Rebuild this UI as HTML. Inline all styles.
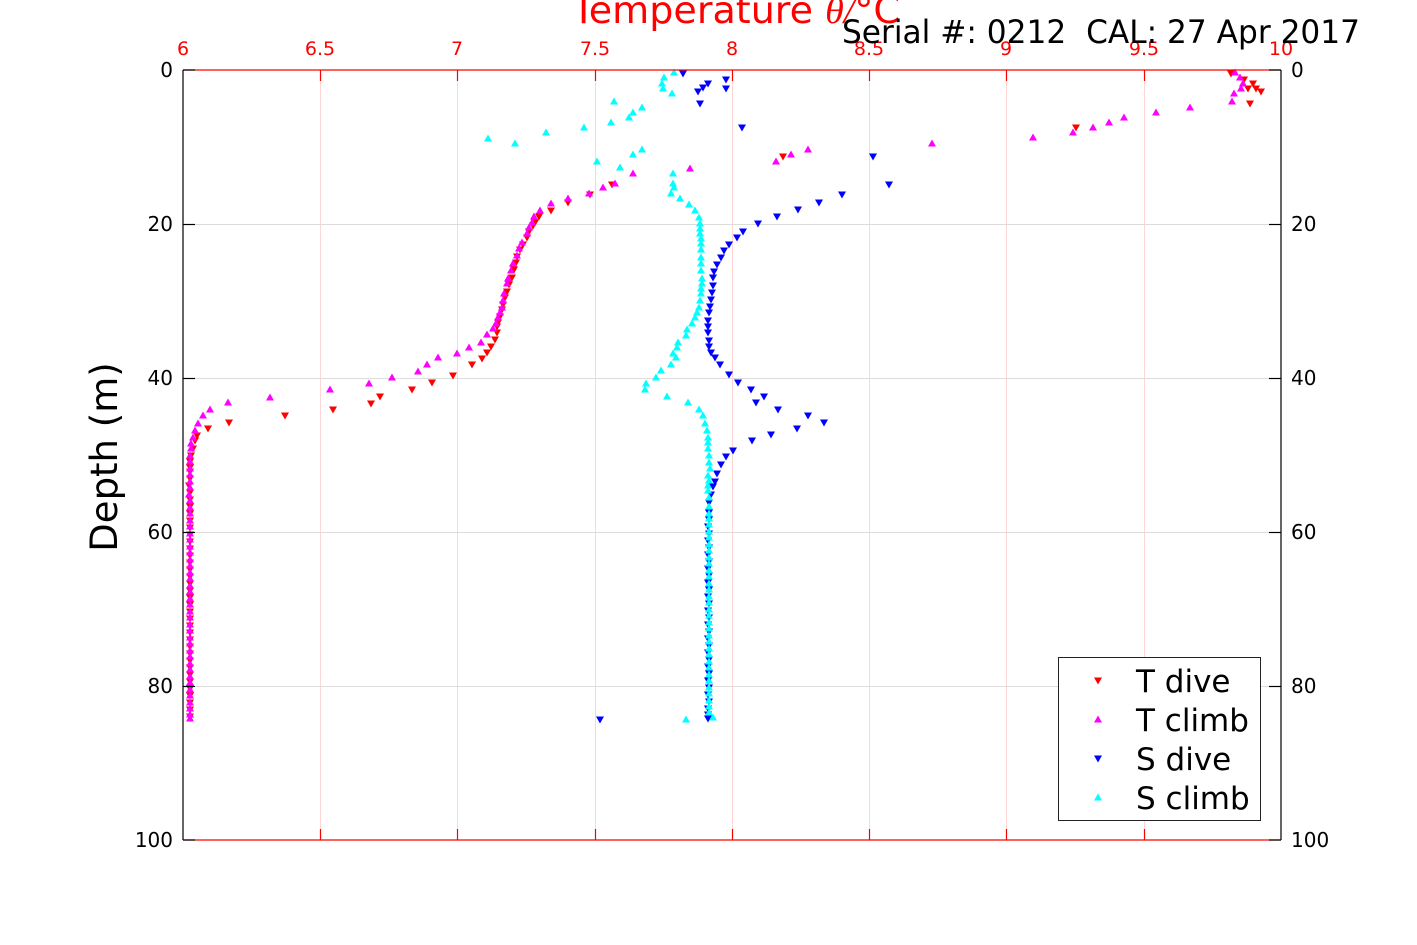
<!DOCTYPE html>
<html><head><meta charset="utf-8"><style>
html,body{margin:0;padding:0;background:#fff;}
svg{display:block;font-family:"DejaVu Sans","Liberation Sans",sans-serif;}
</style></head><body>
<svg width="1417" height="945" viewBox="0 0 1417 945" xmlns="http://www.w3.org/2000/svg">
<rect width="1417" height="945" fill="#fff"/>
<!-- grid -->
<g stroke="#ffd6d6" stroke-width="1">
<line x1="320.5" y1="70" x2="320.5" y2="840"/><line x1="457.5" y1="70" x2="457.5" y2="840"/><line x1="595.5" y1="70" x2="595.5" y2="840"/><line x1="732.5" y1="70" x2="732.5" y2="840"/><line x1="869.5" y1="70" x2="869.5" y2="840"/><line x1="1006.5" y1="70" x2="1006.5" y2="840"/><line x1="1144.5" y1="70" x2="1144.5" y2="840"/>
</g>
<g stroke="#dcdcdc" stroke-width="1">
<line x1="183" y1="224.5" x2="1281" y2="224.5"/><line x1="183" y1="378.5" x2="1281" y2="378.5"/><line x1="183" y1="532.5" x2="1281" y2="532.5"/><line x1="183" y1="686.5" x2="1281" y2="686.5"/>
</g>
<!-- T dive -->
<path fill="#ff0000" d="M1231 74m-4-3.5h8l-4 7zM1244 80m-4-3.5h8l-4 7zM1253 84m-4-3.5h8l-4 7zM1248 89m-4-3.5h8l-4 7zM1256 89m-4-3.5h8l-4 7zM1261 92m-4-3.5h8l-4 7zM1250 104m-4-3.5h8l-4 7zM1076 128m-4-3.5h8l-4 7zM783 157m-4-3.5h8l-4 7zM612 185m-4-3.5h8l-4 7zM590 195m-4-3.5h8l-4 7zM568 203m-4-3.5h8l-4 7zM551 211m-4-3.5h8l-4 7zM539 217m-4-3.5h8l-4 7zM535 223m-4-3.5h8l-4 7zM533 226m-4-3.5h8l-4 7zM529 232m-4-3.5h8l-4 7zM527 238m-4-3.5h8l-4 7zM523 245m-4-3.5h8l-4 7zM520 250m-4-3.5h8l-4 7zM517 257m-4-3.5h8l-4 7zM516 263m-4-3.5h8l-4 7zM514 270m-4-3.5h8l-4 7zM512 278m-4-3.5h8l-4 7zM509 285m-4-3.5h8l-4 7zM507 292m-4-3.5h8l-4 7zM505 298m-4-3.5h8l-4 7zM503 305m-4-3.5h8l-4 7zM502 310m-4-3.5h8l-4 7zM500 317m-4-3.5h8l-4 7zM498 323m-4-3.5h8l-4 7zM497 327m-4-3.5h8l-4 7zM497 333m-4-3.5h8l-4 7zM495 340m-4-3.5h8l-4 7zM491 347m-4-3.5h8l-4 7zM487 353m-4-3.5h8l-4 7zM482 359m-4-3.5h8l-4 7zM472 365m-4-3.5h8l-4 7zM453 376m-4-3.5h8l-4 7zM432 383m-4-3.5h8l-4 7zM412 390m-4-3.5h8l-4 7zM380 397m-4-3.5h8l-4 7zM371 404m-4-3.5h8l-4 7zM333 410m-4-3.5h8l-4 7zM285 416m-4-3.5h8l-4 7zM229 423m-4-3.5h8l-4 7zM208 429m-4-3.5h8l-4 7zM197 436m-4-3.5h8l-4 7zM195 441m-4-3.5h8l-4 7zM193 449m-4-3.5h8l-4 7zM191 456m-4-3.5h8l-4 7zM190 462m-4-3.5h8l-4 7zM190 468m-4-3.5h8l-4 7zM190 472m-4-3.5h8l-4 7zM190 479m-4-3.5h8l-4 7zM189 486m-4-3.5h8l-4 7zM190 493m-4-3.5h8l-4 7zM190 500m-4-3.5h8l-4 7zM190 507m-4-3.5h8l-4 7zM190 514m-4-3.5h8l-4 7zM190 521m-4-3.5h8l-4 7zM190 528m-4-3.5h8l-4 7zM190 535m-4-3.5h8l-4 7zM190 542m-4-3.5h8l-4 7zM190 549m-4-3.5h8l-4 7zM190 556m-4-3.5h8l-4 7zM190 563m-4-3.5h8l-4 7zM190 570m-4-3.5h8l-4 7zM190 577m-4-3.5h8l-4 7zM190 584m-4-3.5h8l-4 7zM190 591m-4-3.5h8l-4 7zM190 598m-4-3.5h8l-4 7zM190 605m-4-3.5h8l-4 7zM190 612m-4-3.5h8l-4 7zM190 619m-4-3.5h8l-4 7zM190 626m-4-3.5h8l-4 7zM190 633m-4-3.5h8l-4 7zM190 640m-4-3.5h8l-4 7zM190 647m-4-3.5h8l-4 7zM190 654m-4-3.5h8l-4 7zM190 661m-4-3.5h8l-4 7zM190 668m-4-3.5h8l-4 7zM190 675m-4-3.5h8l-4 7zM190 682m-4-3.5h8l-4 7zM190 689m-4-3.5h8l-4 7zM190 696m-4-3.5h8l-4 7zM190 703m-4-3.5h8l-4 7zM190 710m-4-3.5h8l-4 7zM190 717m-4-3.5h8l-4 7z"/>
<!-- T climb -->
<path fill="#ff00ff" d="M1235 72m-4 3.5h8l-4-7zM1240 77m-4 3.5h8l-4-7zM1243 83m-4 3.5h8l-4-7zM1241 88m-4 3.5h8l-4-7zM1234 93m-4 3.5h8l-4-7zM1232 101m-4 3.5h8l-4-7zM1190 107m-4 3.5h8l-4-7zM1156 112m-4 3.5h8l-4-7zM1124 117m-4 3.5h8l-4-7zM1109 122m-4 3.5h8l-4-7zM1093 127m-4 3.5h8l-4-7zM1073 132m-4 3.5h8l-4-7zM1033 137m-4 3.5h8l-4-7zM932 143m-4 3.5h8l-4-7zM808 149m-4 3.5h8l-4-7zM791 154m-4 3.5h8l-4-7zM776 161m-4 3.5h8l-4-7zM690 168m-4 3.5h8l-4-7zM633 173m-4 3.5h8l-4-7zM615 183m-4 3.5h8l-4-7zM603 187m-4 3.5h8l-4-7zM589 193m-4 3.5h8l-4-7zM568 198m-4 3.5h8l-4-7zM551 203m-4 3.5h8l-4-7zM540 210m-4 3.5h8l-4-7zM534 216m-4 3.5h8l-4-7zM532 222m-4 3.5h8l-4-7zM529 227m-4 3.5h8l-4-7zM527 233m-4 3.5h8l-4-7zM522 242m-4 3.5h8l-4-7zM519 248m-4 3.5h8l-4-7zM517 255m-4 3.5h8l-4-7zM513 263m-4 3.5h8l-4-7zM511 270m-4 3.5h8l-4-7zM508 278m-4 3.5h8l-4-7zM507 283m-4 3.5h8l-4-7zM504 293m-4 3.5h8l-4-7zM503 300m-4 3.5h8l-4-7zM502 307m-4 3.5h8l-4-7zM500 312m-4 3.5h8l-4-7zM498 317m-4 3.5h8l-4-7zM496 323m-4 3.5h8l-4-7zM493 328m-4 3.5h8l-4-7zM487 334m-4 3.5h8l-4-7zM481 342m-4 3.5h8l-4-7zM469 347m-4 3.5h8l-4-7zM457 353m-4 3.5h8l-4-7zM438 357m-4 3.5h8l-4-7zM427 364m-4 3.5h8l-4-7zM418 371m-4 3.5h8l-4-7zM392 377m-4 3.5h8l-4-7zM369 383m-4 3.5h8l-4-7zM330 389m-4 3.5h8l-4-7zM270 397m-4 3.5h8l-4-7zM228 402m-4 3.5h8l-4-7zM210 409m-4 3.5h8l-4-7zM203 415m-4 3.5h8l-4-7zM198 423m-4 3.5h8l-4-7zM195 430m-4 3.5h8l-4-7zM193 437m-4 3.5h8l-4-7zM191 443m-4 3.5h8l-4-7zM191 448m-4 3.5h8l-4-7zM190 455m-4 3.5h8l-4-7zM190 461m-4 3.5h8l-4-7zM190 468m-4 3.5h8l-4-7zM190 474m-4 3.5h8l-4-7zM190 481m-4 3.5h8l-4-7zM190 487m-4 3.5h8l-4-7zM189 494m-4 3.5h8l-4-7zM190 500m-4 3.5h8l-4-7zM190 507m-4 3.5h8l-4-7zM190 513m-4 3.5h8l-4-7zM190 520m-4 3.5h8l-4-7zM190 526m-4 3.5h8l-4-7zM190 533m-4 3.5h8l-4-7zM190 539m-4 3.5h8l-4-7zM190 546m-4 3.5h8l-4-7zM190 552m-4 3.5h8l-4-7zM190 559m-4 3.5h8l-4-7zM190 565m-4 3.5h8l-4-7zM190 572m-4 3.5h8l-4-7zM190 578m-4 3.5h8l-4-7zM190 585m-4 3.5h8l-4-7zM190 591m-4 3.5h8l-4-7zM190 598m-4 3.5h8l-4-7zM190 604m-4 3.5h8l-4-7zM190 611m-4 3.5h8l-4-7zM190 617m-4 3.5h8l-4-7zM190 624m-4 3.5h8l-4-7zM190 630m-4 3.5h8l-4-7zM190 637m-4 3.5h8l-4-7zM190 643m-4 3.5h8l-4-7zM190 650m-4 3.5h8l-4-7zM190 656m-4 3.5h8l-4-7zM190 663m-4 3.5h8l-4-7zM190 669m-4 3.5h8l-4-7zM190 676m-4 3.5h8l-4-7zM190 682m-4 3.5h8l-4-7zM190 689m-4 3.5h8l-4-7zM190 695m-4 3.5h8l-4-7zM190 702m-4 3.5h8l-4-7zM190 708m-4 3.5h8l-4-7zM190 714m-4 3.5h8l-4-7zM190 718m-4 3.5h8l-4-7z"/>
<!-- S dive -->
<path fill="#0000ff" d="M683 74m-4-3.5h8l-4 7zM726 80m-4-3.5h8l-4 7zM708 84m-4-3.5h8l-4 7zM703 88m-4-3.5h8l-4 7zM698 92m-4-3.5h8l-4 7zM726 89m-4-3.5h8l-4 7zM700 104m-4-3.5h8l-4 7zM742 128m-4-3.5h8l-4 7zM873 157m-4-3.5h8l-4 7zM889 185m-4-3.5h8l-4 7zM842 195m-4-3.5h8l-4 7zM819 203m-4-3.5h8l-4 7zM798 210m-4-3.5h8l-4 7zM777 217m-4-3.5h8l-4 7zM758 224m-4-3.5h8l-4 7zM743 232m-4-3.5h8l-4 7zM737 238m-4-3.5h8l-4 7zM729 245m-4-3.5h8l-4 7zM724 251m-4-3.5h8l-4 7zM721 258m-4-3.5h8l-4 7zM717 265m-4-3.5h8l-4 7zM714 272m-4-3.5h8l-4 7zM713 278m-4-3.5h8l-4 7zM713 286m-4-3.5h8l-4 7zM712 293m-4-3.5h8l-4 7zM711 300m-4-3.5h8l-4 7zM710 307m-4-3.5h8l-4 7zM709 313m-4-3.5h8l-4 7zM708 321m-4-3.5h8l-4 7zM708 327m-4-3.5h8l-4 7zM708 333m-4-3.5h8l-4 7zM709 341m-4-3.5h8l-4 7zM709 347m-4-3.5h8l-4 7zM711 353m-4-3.5h8l-4 7zM715 358m-4-3.5h8l-4 7zM720 365m-4-3.5h8l-4 7zM729 375m-4-3.5h8l-4 7zM738 383m-4-3.5h8l-4 7zM751 390m-4-3.5h8l-4 7zM764 397m-4-3.5h8l-4 7zM756 403m-4-3.5h8l-4 7zM778 410m-4-3.5h8l-4 7zM808 416m-4-3.5h8l-4 7zM824 423m-4-3.5h8l-4 7zM797 429m-4-3.5h8l-4 7zM771 435m-4-3.5h8l-4 7zM752 441m-4-3.5h8l-4 7zM733 451m-4-3.5h8l-4 7zM726 457m-4-3.5h8l-4 7zM721 465m-4-3.5h8l-4 7zM717 474m-4-3.5h8l-4 7zM715 482m-4-3.5h8l-4 7zM713 487m-4-3.5h8l-4 7zM711 495m-4-3.5h8l-4 7zM709 503m-4-3.5h8l-4 7zM709 513m-4-3.5h8l-4 7zM709 520m-4-3.5h8l-4 7zM708 527m-4-3.5h8l-4 7zM709 534m-4-3.5h8l-4 7zM708 541m-4-3.5h8l-4 7zM709 548m-4-3.5h8l-4 7zM708 555m-4-3.5h8l-4 7zM709 562m-4-3.5h8l-4 7zM708 569m-4-3.5h8l-4 7zM709 576m-4-3.5h8l-4 7zM708 583m-4-3.5h8l-4 7zM709 590m-4-3.5h8l-4 7zM708 597m-4-3.5h8l-4 7zM709 604m-4-3.5h8l-4 7zM708 611m-4-3.5h8l-4 7zM709 618m-4-3.5h8l-4 7zM708 625m-4-3.5h8l-4 7zM709 632m-4-3.5h8l-4 7zM708 639m-4-3.5h8l-4 7zM709 646m-4-3.5h8l-4 7zM708 653m-4-3.5h8l-4 7zM709 660m-4-3.5h8l-4 7zM708 667m-4-3.5h8l-4 7zM709 674m-4-3.5h8l-4 7zM708 681m-4-3.5h8l-4 7zM709 688m-4-3.5h8l-4 7zM708 695m-4-3.5h8l-4 7zM709 702m-4-3.5h8l-4 7zM708 709m-4-3.5h8l-4 7zM708 715m-4-3.5h8l-4 7zM708 719m-4-3.5h8l-4 7zM600 720m-4-3.5h8l-4 7z"/>
<!-- S climb -->
<path fill="#00ffff" d="M674 72m-4 3.5h8l-4-7zM664 77m-4 3.5h8l-4-7zM662 83m-4 3.5h8l-4-7zM663 88m-4 3.5h8l-4-7zM672 93m-4 3.5h8l-4-7zM614 101m-4 3.5h8l-4-7zM642 107m-4 3.5h8l-4-7zM633 112m-4 3.5h8l-4-7zM629 117m-4 3.5h8l-4-7zM611 122m-4 3.5h8l-4-7zM584 127m-4 3.5h8l-4-7zM546 132m-4 3.5h8l-4-7zM488 138m-4 3.5h8l-4-7zM515 143m-4 3.5h8l-4-7zM642 149m-4 3.5h8l-4-7zM633 154m-4 3.5h8l-4-7zM597 161m-4 3.5h8l-4-7zM620 167m-4 3.5h8l-4-7zM673 173m-4 3.5h8l-4-7zM673 183m-4 3.5h8l-4-7zM674 187m-4 3.5h8l-4-7zM671 193m-4 3.5h8l-4-7zM680 198m-4 3.5h8l-4-7zM689 204m-4 3.5h8l-4-7zM695 210m-4 3.5h8l-4-7zM699 217m-4 3.5h8l-4-7zM700 223m-4 3.5h8l-4-7zM700 228m-4 3.5h8l-4-7zM700 233m-4 3.5h8l-4-7zM701 238m-4 3.5h8l-4-7zM701 243m-4 3.5h8l-4-7zM701 249m-4 3.5h8l-4-7zM701 257m-4 3.5h8l-4-7zM701 263m-4 3.5h8l-4-7zM701 270m-4 3.5h8l-4-7zM702 278m-4 3.5h8l-4-7zM702 283m-4 3.5h8l-4-7zM701 288m-4 3.5h8l-4-7zM701 293m-4 3.5h8l-4-7zM700 300m-4 3.5h8l-4-7zM699 307m-4 3.5h8l-4-7zM697 312m-4 3.5h8l-4-7zM695 317m-4 3.5h8l-4-7zM692 323m-4 3.5h8l-4-7zM687 329m-4 3.5h8l-4-7zM686 335m-4 3.5h8l-4-7zM678 342m-4 3.5h8l-4-7zM677 347m-4 3.5h8l-4-7zM673 353m-4 3.5h8l-4-7zM676 357m-4 3.5h8l-4-7zM671 364m-4 3.5h8l-4-7zM661 370m-4 3.5h8l-4-7zM656 377m-4 3.5h8l-4-7zM646 383m-4 3.5h8l-4-7zM645 389m-4 3.5h8l-4-7zM667 396m-4 3.5h8l-4-7zM688 402m-4 3.5h8l-4-7zM699 409m-4 3.5h8l-4-7zM703 415m-4 3.5h8l-4-7zM705 423m-4 3.5h8l-4-7zM707 430m-4 3.5h8l-4-7zM708 437m-4 3.5h8l-4-7zM708 442m-4 3.5h8l-4-7zM708 448m-4 3.5h8l-4-7zM709 455m-4 3.5h8l-4-7zM709 462m-4 3.5h8l-4-7zM710 468m-4 3.5h8l-4-7zM708 475m-4 3.5h8l-4-7zM709 480m-4 3.5h8l-4-7zM708 485m-4 3.5h8l-4-7zM708 490m-4 3.5h8l-4-7zM709 497m-4 3.5h8l-4-7zM709 506m-4 3.5h8l-4-7zM709 513m-4 3.5h8l-4-7zM709 518m-4 3.5h8l-4-7zM709 524m-4 3.5h8l-4-7zM709 531m-4 3.5h8l-4-7zM709 537m-4 3.5h8l-4-7zM709 544m-4 3.5h8l-4-7zM709 550m-4 3.5h8l-4-7zM709 557m-4 3.5h8l-4-7zM709 563m-4 3.5h8l-4-7zM709 570m-4 3.5h8l-4-7zM709 576m-4 3.5h8l-4-7zM709 583m-4 3.5h8l-4-7zM709 589m-4 3.5h8l-4-7zM709 596m-4 3.5h8l-4-7zM709 602m-4 3.5h8l-4-7zM709 609m-4 3.5h8l-4-7zM709 615m-4 3.5h8l-4-7zM709 622m-4 3.5h8l-4-7zM709 628m-4 3.5h8l-4-7zM709 635m-4 3.5h8l-4-7zM709 641m-4 3.5h8l-4-7zM709 648m-4 3.5h8l-4-7zM709 654m-4 3.5h8l-4-7zM709 661m-4 3.5h8l-4-7zM709 667m-4 3.5h8l-4-7zM709 674m-4 3.5h8l-4-7zM709 680m-4 3.5h8l-4-7zM709 687m-4 3.5h8l-4-7zM709 693m-4 3.5h8l-4-7zM709 700m-4 3.5h8l-4-7zM709 706m-4 3.5h8l-4-7zM709 712m-4 3.5h8l-4-7zM713 717m-4 3.5h8l-4-7zM686 719m-4 3.5h8l-4-7z"/>
<!-- axes -->
<g stroke-width="1.2" fill="none">
<line x1="183" y1="70" x2="1281" y2="70" stroke="#ff0000"/>
<line x1="183" y1="840" x2="1281" y2="840" stroke="#ff0000"/>
<line x1="183" y1="70" x2="183" y2="840" stroke="#000"/>
<line x1="1281" y1="70" x2="1281" y2="840" stroke="#000"/>
</g>
<g stroke="#ff0000" stroke-width="1.2">
<line x1="320.5" y1="70" x2="320.5" y2="81"/><line x1="457.5" y1="70" x2="457.5" y2="81"/><line x1="595.5" y1="70" x2="595.5" y2="81"/><line x1="732.5" y1="70" x2="732.5" y2="81"/><line x1="869.5" y1="70" x2="869.5" y2="81"/><line x1="1006.5" y1="70" x2="1006.5" y2="81"/><line x1="1144.5" y1="70" x2="1144.5" y2="81"/>
<line x1="320.5" y1="840" x2="320.5" y2="829"/><line x1="457.5" y1="840" x2="457.5" y2="829"/><line x1="595.5" y1="840" x2="595.5" y2="829"/><line x1="732.5" y1="840" x2="732.5" y2="829"/><line x1="869.5" y1="840" x2="869.5" y2="829"/><line x1="1006.5" y1="840" x2="1006.5" y2="829"/><line x1="1144.5" y1="840" x2="1144.5" y2="829"/>
</g>
<g stroke="#000" stroke-width="1.2">
<line x1="183" y1="70" x2="195" y2="70"/><line x1="183" y1="224.5" x2="195" y2="224.5"/><line x1="183" y1="378.5" x2="195" y2="378.5"/><line x1="183" y1="532.5" x2="195" y2="532.5"/><line x1="183" y1="686.5" x2="195" y2="686.5"/><line x1="183" y1="840" x2="195" y2="840"/>
<line x1="1269" y1="70" x2="1281" y2="70"/><line x1="1269" y1="224.5" x2="1281" y2="224.5"/><line x1="1269" y1="378.5" x2="1281" y2="378.5"/><line x1="1269" y1="532.5" x2="1281" y2="532.5"/><line x1="1269" y1="686.5" x2="1281" y2="686.5"/><line x1="1269" y1="840" x2="1281" y2="840"/>
</g>
<!-- tick labels -->
<g fill="#ff0000" font-size="19" text-anchor="middle">
<text x="183" y="55">6</text><text x="320" y="55">6.5</text><text x="457" y="55">7</text><text x="595" y="55">7.5</text><text x="732" y="55">8</text><text x="869" y="55">8.5</text><text x="1006" y="55">9</text><text x="1144" y="55">9.5</text><text x="1281" y="55">10</text>
</g>
<g fill="#000" font-size="20" text-anchor="end">
<text x="173" y="77">0</text><text x="173" y="231">20</text><text x="173" y="385">40</text><text x="173" y="539">60</text><text x="173" y="693">80</text><text x="173" y="847">100</text>
</g>
<g fill="#000" font-size="20" text-anchor="start">
<text x="1291" y="77">0</text><text x="1291" y="231">20</text><text x="1291" y="385">40</text><text x="1291" y="539">60</text><text x="1291" y="693">80</text><text x="1291" y="847">100</text>
</g>
<!-- titles -->
<text x="572" y="23" fill="#ff0000" font-size="37" textLength="328" lengthAdjust="spacingAndGlyphs">Temperature <tspan font-family="Liberation Serif, serif" font-style="italic">θ/</tspan>°C</text>
<text x="842" y="43" fill="#000" font-size="32" textLength="518" lengthAdjust="spacingAndGlyphs" xml:space="preserve">Serial #: 0212  CAL: 27 Apr 2017</text>
<text transform="translate(117,457) rotate(-90)" fill="#000" font-size="37" text-anchor="middle">Depth (m)</text>
<!-- legend -->
<rect x="1058.5" y="657.5" width="202" height="163" fill="#fff" stroke="#222" stroke-width="1"/>
<path fill="#ff0000" d="M1098 681m-4-3.5h8l-4 7z"/>
<path fill="#ff00ff" d="M1098 719m-4 3.5h8l-4-7z"/>
<path fill="#0000ff" d="M1098 759m-4-3.5h8l-4 7z"/>
<path fill="#00ffff" d="M1098 797m-4 3.5h8l-4-7z"/>
<g fill="#000" font-size="31">
<text x="1136" y="692">T dive</text>
<text x="1136" y="731">T climb</text>
<text x="1136" y="770">S dive</text>
<text x="1136" y="809">S climb</text>
</g>
</svg>
</body></html>
